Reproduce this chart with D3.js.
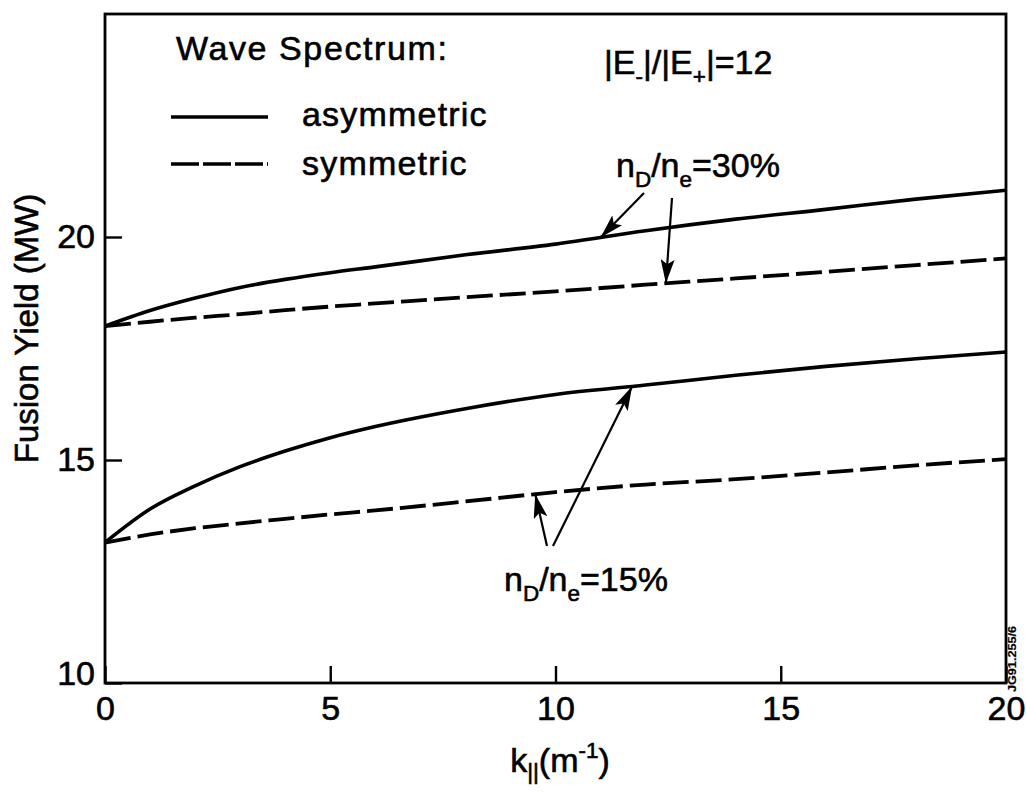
<!DOCTYPE html>
<html>
<head>
<meta charset="utf-8">
<script src="https://cdn.jsdelivr.net/npm/d3@7"></script>
<style>
  html, body { margin: 0; padding: 0; background: #fff; }
  svg { display: block; }
  text { font-family: "Liberation Sans", Arial, Helvetica, sans-serif; fill: #000; stroke: #000; stroke-width: 0.6px; }
</style>
</head>
<body>
<svg id="chart" width="1026" height="792"></svg>
<script>
// Parallel wavenumber of the launched wave spectrum (m^-1)
const kValues = [0, 1, 2, 3, 4, 5, 6, 8, 10, 12, 14, 16, 18, 20];

// Fusion yield (MW), deuterium fraction nD/ne = 30 %
const asym30 = [18.0, 18.35, 18.63, 18.87, 19.05, 19.2, 19.33, 19.6, 19.84, 20.14, 20.4, 20.62, 20.85, 21.05];
const sym30  = [18.0, 18.1, 18.19, 18.27, 18.36, 18.44, 18.51, 18.65, 18.78, 18.93, 19.07, 19.22, 19.37, 19.52];

// Fusion yield (MW), deuterium fraction nD/ne = 15 %
const asym15 = [13.15, 13.9, 14.42, 14.85, 15.2, 15.5, 15.75, 16.15, 16.47, 16.68, 16.9, 17.1, 17.27, 17.42];
const sym15  = [13.15, 13.33, 13.47, 13.58, 13.68, 13.78, 13.87, 14.07, 14.28, 14.45, 14.57, 14.72, 14.88, 15.02];

const xTicks = [0, 5, 10, 15, 20];
const yTicks = [10, 15, 20];

const svg = d3.select("#chart");
const margin = { left: 105, right: 20, top: 14, bottom: 109 };
const W = 1026, H = 792;

const x = d3.scaleLinear().domain([0, 20]).range([margin.left, W - margin.right]);
const y = d3.scaleLinear().domain([10, 25]).range([H - margin.bottom, margin.top]);

// Axes with inward ticks
const xAxis = d3.axisBottom(x).tickValues(xTicks).tickSizeInner(-17).tickSizeOuter(0).tickPadding(13);
const yAxis = d3.axisLeft(y).tickValues(yTicks).tickSizeInner(-17).tickSizeOuter(0).tickPadding(10);

const gx = svg.append("g").attr("transform", `translate(0,${y(10)})`).call(xAxis);
const gy = svg.append("g").attr("transform", `translate(${x(0)},0)`).call(yAxis);

[gx, gy].forEach(g => {
  g.select(".domain").remove();
  g.selectAll(".tick line").attr("stroke", "#000").attr("stroke-width", 2.4);
  g.selectAll(".tick text")
    .style("font-size", "34px")
    .attr("fill", "#000");
});
// keep the "10" label clear of the "0" below the corner
gy.selectAll(".tick text").filter(d => d === 10).attr("dy", "0.05em");

// Plot frame
svg.append("rect")
  .attr("x", x(0)).attr("y", y(25))
  .attr("width", x(20) - x(0)).attr("height", y(10) - y(25))
  .attr("fill", "none").attr("stroke", "#000").attr("stroke-width", 2.8);

// Curves
const series = [
  { name: "asym30", values: asym30, dashed: false },
  { name: "sym30", values: sym30, dashed: true },
  { name: "asym15", values: asym15, dashed: false },
  { name: "sym15", values: sym15, dashed: true }
];

const line = d3.line()
  .x(d => x(d[0]))
  .y(d => y(d[1]))
  .curve(d3.curveMonotoneX);

svg.append("g").selectAll("path")
  .data(series)
  .join("path")
  .attr("d", s => line(kValues.map((k, i) => [k, s.values[i]])))
  .attr("fill", "none")
  .attr("stroke", "#000")
  .attr("stroke-width", s => s.dashed ? 3.8 : 3.6)
  .attr("stroke-dasharray", s => s.dashed ? "26,7" : null)
  .attr("stroke-linecap", "butt");

// Arrow marker
svg.append("defs").append("marker")
  .attr("id", "arrow")
  .attr("viewBox", "0 0 24 14")
  .attr("refX", 24).attr("refY", 7)
  .attr("markerWidth", 24).attr("markerHeight", 14)
  .attr("markerUnits", "userSpaceOnUse")
  .attr("orient", "auto")
  .append("path").attr("d", "M0,0 L24,7 L0,14 L5,7 Z").attr("fill", "#000");

const valueAt = (vals, k) => d3.scaleLinear().domain(kValues).range(vals)(k);

// Arrows from the composition labels to the curves
const arrows = [
  { from: [644, 193], series: asym30, k: 11.0 },
  { from: [672, 198], series: sym30, k: 12.45 },
  { from: [553, 546], series: asym15, k: 11.7 },
  { from: [547, 546], series: sym15, k: 9.55 }
];
svg.append("g").selectAll("line")
  .data(arrows)
  .join("line")
  .attr("x1", a => a.from[0]).attr("y1", a => a.from[1])
  .attr("x2", a => x(a.k)).attr("y2", a => y(valueAt(a.series, a.k)))
  .attr("stroke", "#000").attr("stroke-width", 2.2)
  .attr("marker-end", "url(#arrow)");

// Legend
const legend = svg.append("g");
legend.append("text").attr("x", 176).attr("y", 60)
  .style("font-size", "34px").style("letter-spacing", "1.6px").text("Wave Spectrum:");
legend.append("line").attr("x1", 171).attr("x2", 268).attr("y1", 117).attr("y2", 117)
  .attr("stroke", "#000").attr("stroke-width", 3.6);
legend.append("line").attr("x1", 171).attr("x2", 268).attr("y1", 164).attr("y2", 164)
  .attr("stroke", "#000").attr("stroke-width", 3.6).attr("stroke-dasharray", "28,4");
legend.append("text").attr("x", 302).attr("y", 126)
  .style("font-size", "34px").style("letter-spacing", "1.2px").text("asymmetric");
legend.append("text").attr("x", 302).attr("y", 175)
  .style("font-size", "34px").style("letter-spacing", "1.2px").text("symmetric");

// Text built from pieces with sub/superscripts
function richText(g, xPos, yPos, parts, size, anchor, subShift) {
  const t = g.append("text").attr("x", xPos).attr("y", yPos)
    .style("font-size", size + "px").attr("text-anchor", anchor || "start");
  const down = subShift === undefined ? 0.3 : subShift;
  let shift = 0;
  parts.forEach(p => {
    const target = p.sub ? down * size : p.sup ? -0.4 * size : 0;
    t.append("tspan")
      .attr("dy", target - shift)
      .style("font-size", (p.sub || p.sup ? 0.66 * size : size) + "px")
      .text(p.t);
    shift = target;
  });
  return t;
}

const ann = svg.append("g");
richText(ann, 604, 74, [
  { t: "|E" }, { t: "-", sub: true }, { t: "|/|E" }, { t: "+", sub: true }, { t: "|=12" }
], 34);
richText(ann, 616, 177, [
  { t: "n" }, { t: "D", sub: true }, { t: "/n" }, { t: "e", sub: true }, { t: "=30%" }
], 34);
richText(ann, 504, 591, [
  { t: "n" }, { t: "D", sub: true }, { t: "/n" }, { t: "e", sub: true }, { t: "=15%" }
], 34);

// Axis titles
richText(svg, 560, 772, [
  { t: "k" }, { t: "||", sub: true }, { t: "(m" }, { t: "-1", sup: true }, { t: ")" }
], 34, "middle", 0.22);

svg.append("text")
  .attr("transform", `translate(38,${(y(10) + y(25)) / 2 - 20}) rotate(-90)`)
  .attr("text-anchor", "middle")
  .style("font-size", "33px")
  .text("Fusion Yield (MW)");

// Figure reference number along the right edge
svg.append("text")
  .attr("transform", "translate(1016,692) rotate(-90)")
  .style("font-size", "11px").style("font-weight", "bold").style("stroke-width", "0.2px")
  .attr("textLength", 66).attr("lengthAdjust", "spacingAndGlyphs")
  .text("JG91.255/6");
</script>
</body>
</html>
